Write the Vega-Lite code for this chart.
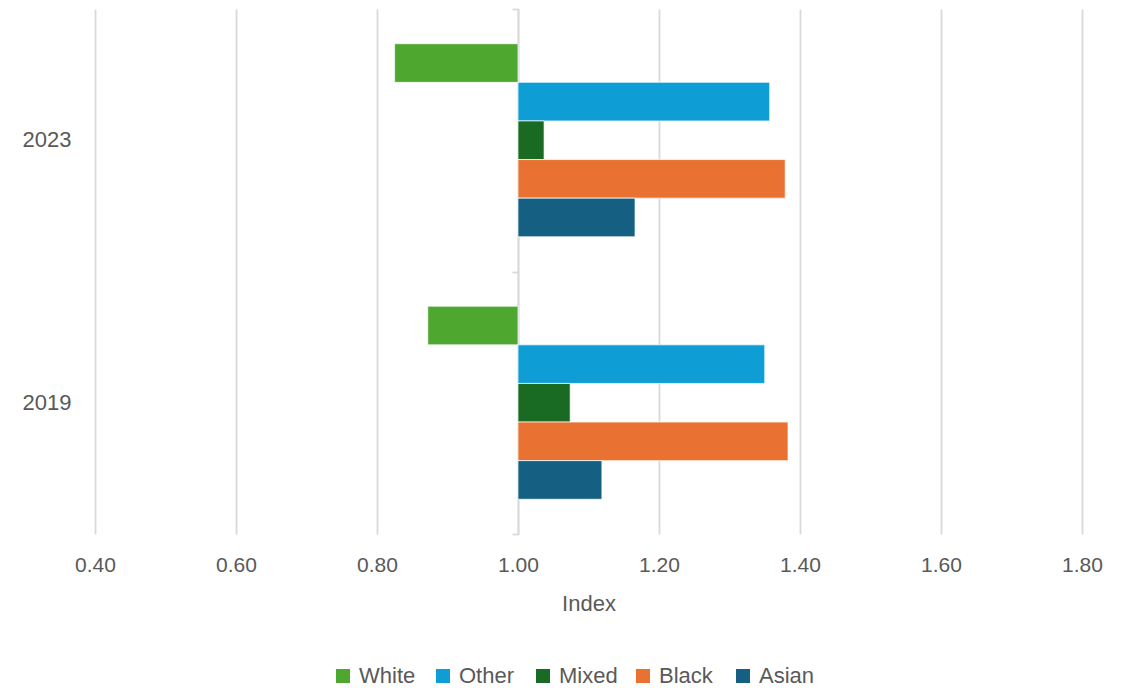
{
  "$schema": "https://vega.github.io/schema/vega-lite/v6.json",
  "autosize": "none",
  "padding": {"left": 95, "top": 9, "right": 45, "bottom": 154},
  "width": 987,
  "height": 525,
  "background": "white",
  "config": {
    "view": {"stroke": null},
    "font": "Liberation Sans",
    "axis": {"labelColor": "#595959", "titleColor": "#595959", "labelFont": "Liberation Sans", "titleFont": "Liberation Sans"}
  },
  "data": {
    "values": [
      {"year": "2023", "group": "White", "index": 0.825},
      {"year": "2023", "group": "Other", "index": 1.357},
      {"year": "2023", "group": "Mixed", "index": 1.037},
      {"year": "2023", "group": "Black", "index": 1.379},
      {"year": "2023", "group": "Asian", "index": 1.166},
      {"year": "2019", "group": "White", "index": 0.872},
      {"year": "2019", "group": "Other", "index": 1.350},
      {"year": "2019", "group": "Mixed", "index": 1.074},
      {"year": "2019", "group": "Black", "index": 1.383},
      {"year": "2019", "group": "Asian", "index": 1.119}
    ]
  },
  "resolve": {"axis": {"y": "independent"}},
  "layer": [
    {
      "mark": {"type": "bar", "stroke": "white", "strokeWidth": 0.7},
      "encoding": {
        "y": {
          "field": "year",
          "type": "nominal",
          "scale": {"domain": ["2023", "2019"], "paddingInner": 0, "paddingOuter": 0},
          "axis": {
            "title": null,
            "domain": false,
            "ticks": false,
            "grid": false,
            "labelAlign": "left",
            "labelPadding": 73,
            "labelFontSize": 22
          }
        },
        "yOffset": {
          "field": "group",
          "type": "nominal",
          "sort": ["White", "Other", "Mixed", "Black", "Asian"],
          "scale": {"paddingInner": 0, "paddingOuter": 0.9}
        },
        "x": {
          "field": "index",
          "type": "quantitative",
          "scale": {"domain": [0.4, 1.8], "nice": false, "zero": false},
          "axis": {
            "title": "Index",
            "titleFontSize": 22,
            "titleFontWeight": "normal",
            "titlePadding": 18,
            "values": [0.4, 0.6, 0.8, 1.0, 1.2, 1.4, 1.6, 1.8],
            "format": ".2f",
            "labelFontSize": 21,
            "labelPadding": 20,
            "labelFlush": false,
            "ticks": false,
            "domain": false,
            "grid": true,
            "gridColor": "#d9d9d9",
            "gridWidth": 1.8
          }
        },
        "x2": {"datum": 1},
        "color": {
          "field": "group",
          "type": "nominal",
          "scale": {
            "domain": ["White", "Other", "Mixed", "Black", "Asian"],
            "range": ["#4ea72e", "#0e9ed5", "#196b24", "#e97132", "#156082"]
          },
          "legend": {
            "title": null,
            "orient": "none",
            "direction": "horizontal",
            "columns": 5,
            "gridAlign": "all",
            "legendX": 237,
            "legendY": 656,
            "symbolType": "square",
            "symbolSize": 196,
            "symbolStrokeWidth": 0,
            "labelFontSize": 22,
            "labelColor": "#595959",
            "labelFont": "Liberation Sans",
            "labelOffset": 5,
            "columnPadding": 14
          }
        }
      }
    },
    {
      "mark": {"type": "rule", "strokeOpacity": 0},
      "encoding": {
        "x": {"datum": 1, "type": "quantitative"},
        "y": {
          "field": "year",
          "type": "nominal",
          "axis": {
            "title": null,
            "orient": "left",
            "offset": -423,
            "labels": false,
            "grid": false,
            "domain": true,
            "domainColor": "#d9d9d9",
            "domainWidth": 1.8,
            "ticks": true,
            "tickBand": "extent",
            "tickSize": 6,
            "tickColor": "#d9d9d9",
            "tickWidth": 1.8
          }
        }
      }
    }
  ]
}
